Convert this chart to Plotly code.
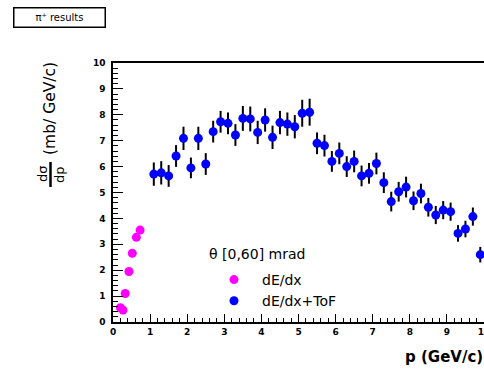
import plotly.graph_objects as go

# ---- data ----
p_dedx = [0.20, 0.27, 0.33, 0.43, 0.52, 0.63, 0.73]
y_dedx = [0.55, 0.46, 1.10, 1.95, 2.65, 3.27, 3.55]
e_dedx = [0.05, 0.05, 0.06, 0.08, 0.08, 0.10, 0.10]

p_tof = [1.1, 1.3, 1.5, 1.7, 1.9, 2.1, 2.3, 2.5, 2.7, 2.9, 3.1, 3.3, 3.5, 3.7, 3.9,
         4.1, 4.3, 4.5, 4.7, 4.9, 5.1, 5.3, 5.5, 5.7, 5.9, 6.1, 6.3, 6.5, 6.7, 6.9,
         7.1, 7.3, 7.5, 7.7, 7.9, 8.1, 8.3, 8.5, 8.7, 8.9, 9.1, 9.3, 9.5, 9.7, 9.9]
y_tof = [5.71, 5.76, 5.64, 6.41, 7.09, 5.95, 7.09, 6.10, 7.35, 7.73, 7.67, 7.22, 7.86, 7.84, 7.32,
         7.80, 7.13, 7.70, 7.64, 7.54, 8.06, 8.10, 6.90, 6.81, 6.20, 6.51, 6.00, 6.20, 5.64, 5.74,
         6.12, 5.38, 4.65, 5.03, 5.21, 4.68, 4.96, 4.43, 4.13, 4.32, 4.26, 3.42, 3.59, 4.07, 2.60]
e_tof = [0.45, 0.45, 0.42, 0.42, 0.45, 0.40, 0.45, 0.42, 0.42, 0.42, 0.42, 0.42, 0.48, 0.48, 0.45,
         0.45, 0.45, 0.45, 0.45, 0.45, 0.52, 0.52, 0.42, 0.42, 0.40, 0.42, 0.40, 0.42, 0.40, 0.40,
         0.42, 0.40, 0.38, 0.38, 0.40, 0.36, 0.38, 0.36, 0.35, 0.35, 0.35, 0.32, 0.32, 0.35, 0.30]

x_ticks = [0, 1, 2, 3, 4, 5, 6, 7, 8, 9, 10]
y_ticks = [0, 1, 2, 3, 4, 5, 6, 7, 8, 9, 10]

W, H = 484, 371
L, R, T, B = 113, 0, 63, 49
pw, ph = W - L - R, H - T - B

def px2x(px):
    return (px - L) / pw

def py2y(py):
    return (H - B - py) / ph

font = "DejaVu Sans, Liberation Sans, Arial, sans-serif"

fig = go.Figure()
fig.add_trace(go.Scatter(
    x=p_dedx, y=y_dedx, mode="markers", name="dE/dx",
    marker=dict(symbol="circle", size=9, color="#ff00ff"),
    error_y=dict(type="data", array=e_dedx, color="black", thickness=1.5, width=0),
))
fig.add_trace(go.Scatter(
    x=p_tof, y=y_tof, mode="markers", name="dE/dx+ToF",
    marker=dict(symbol="circle", size=9, color="#0000ff"),
    error_y=dict(type="data", array=e_tof, color="black", thickness=2, width=0),
))

tickfont = dict(family=font, size=9, color="black", weight="bold")
fig.update_layout(
    width=W, height=H,
    margin=dict(l=L, r=R, t=T, b=B, pad=0, autoexpand=False),
    paper_bgcolor="white", plot_bgcolor="white",
    showlegend=True,
    legend=dict(
        font=dict(family=font, size=14, color="black"),
        x=px2x(206), y=py2y(264), xanchor="left", yanchor="top",
        bgcolor="rgba(0,0,0,0)", borderwidth=0, itemwidth=46, tracegroupgap=0,
    ),
    xaxis=dict(
        range=[0, 10], tickvals=x_ticks, ticktext=[str(v) for v in x_ticks],
        showgrid=False, zeroline=False, showline=True, linecolor="black", linewidth=1.5,
        mirror=True, ticks="inside", ticklen=8, tickwidth=1, tickcolor="black",
        tickfont=tickfont, ticklabeloverflow="allow", automargin=False,
        minor=dict(dtick=0.2, ticks="inside", ticklen=4, tickcolor="black", showgrid=False),
    ),
    yaxis=dict(
        range=[0, 10], tickvals=y_ticks, ticktext=[str(v) for v in y_ticks],
        showgrid=False, zeroline=False, showline=True, linecolor="black", linewidth=1.5,
        mirror=False, ticks="inside", ticklen=10, tickwidth=1, tickcolor="black",
        tickfont=tickfont, ticklabelstandoff=4, automargin=False,
        minor=dict(dtick=0.2, ticks="inside", ticklen=5, tickcolor="black", showgrid=False),
    ),
)

# legend header
fig.add_annotation(text="θ [0,60] mrad", xref="paper", yref="paper",
                   x=px2x(207), y=py2y(254), xanchor="left", yanchor="middle",
                   showarrow=False, font=dict(family=font, size=14, color="black"))
# x axis title
fig.add_annotation(text="<b>p (GeV/c)</b>", xref="paper", yref="paper",
                   x=px2x(485), y=py2y(357), xanchor="right", yanchor="middle",
                   showarrow=False, font=dict(family=font, size=15, color="black"))
# y axis title
fig.add_annotation(text="(mb/ GeV/c)", xref="paper", yref="paper", textangle=-90,
                   x=px2x(50), y=py2y(109), xanchor="center", yanchor="middle",
                   showarrow=False, font=dict(family=font, size=15.5, color="black"))
fig.add_annotation(text="dσ", xref="paper", yref="paper", textangle=-90,
                   x=px2x(42), y=py2y(174), xanchor="center", yanchor="middle",
                   showarrow=False, font=dict(family=font, size=13, color="black"))
fig.add_annotation(text="dp", xref="paper", yref="paper", textangle=-90,
                   x=px2x(59), y=py2y(174), xanchor="center", yanchor="middle",
                   showarrow=False, font=dict(family=font, size=13, color="black"))
fig.add_shape(type="line", xref="paper", yref="paper",
              x0=px2x(50.5), x1=px2x(50.5), y0=py2y(162), y1=py2y(187),
              line=dict(color="black", width=2.5))
# title box
fig.add_annotation(text="π⁺ results", xref="paper", yref="paper",
                   x=px2x(13), y=py2y(7), xanchor="left", yanchor="top",
                   width=88, height=16, align="center", showarrow=False,
                   bordercolor="black", borderwidth=1.5, borderpad=1, bgcolor="white",
                   font=dict(family=font, size=10, color="black"))

fig.write_html("out.html")
